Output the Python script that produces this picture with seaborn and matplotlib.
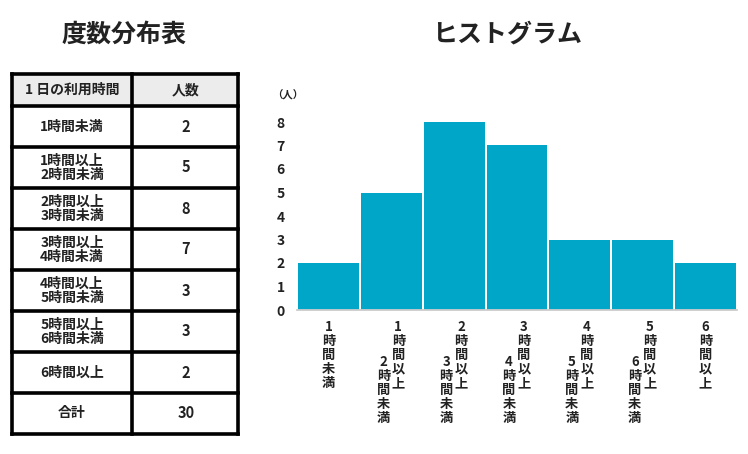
import matplotlib
matplotlib.use('Agg')
import matplotlib.pyplot as plt
import matplotlib.transforms as mtransforms
from matplotlib.patches import Rectangle
import seaborn as sns
import pandas as pd

# data
time_labels = ['1時間未満', '1時間以上\n2時間未満', '2時間以上\n3時間未満', '3時間以上\n4時間未満',
               '4時間以上\n5時間未満', '5時間以上\n6時間未満', '6時間以上']
counts = [2, 5, 8, 7, 3, 3, 2]
header = ['1 日の利用時間', '人数']
total_label = '合計'
y_ticks = [0, 1, 2, 3, 4, 5, 6, 7, 8]

bar_color = '#00a6c7'
text_color = '#222222'

sns.set_theme(style='white')
plt.rcParams['font.family'] = ['Noto Sans CJK JP', 'DejaVu Sans']

W, H = 748, 454
fig = plt.figure(figsize=(W / 100, H / 100), dpi=100)

# ---------- table (pixel coordinates) ----------
tab = fig.add_axes([0, 0, 1, 1])
tab.set_xlim(0, W)
tab.set_ylim(H, 0)
tab.axis('off')

left, mid, right = 12, 132, 238
top, head_h, row_h = 74, 32, 41
n_rows = len(time_labels) + 1
row_tops = [top + head_h + i * row_h for i in range(n_rows)]
bottom = row_tops[-1] + row_h

tab.add_patch(Rectangle((left, top), right - left, head_h, facecolor='#ececec', edgecolor='none'))
lw = 2.6
for y in [top] + row_tops + [bottom]:
    tab.plot([left, right], [y, y], color='black', lw=lw, solid_capstyle='projecting')
for x in [left, mid, right]:
    tab.plot([x, x], [top, bottom], color='black', lw=lw, solid_capstyle='projecting')

cx_l, cx_r = (left + mid) / 2, (mid + right) / 2 + 1
tab.text(cx_l, top + head_h / 2, header[0], ha='center', va='center', fontsize=10, fontweight='bold', color=text_color)
tab.text(cx_r, top + head_h / 2, header[1], ha='center', va='center', fontsize=10, fontweight='bold', color=text_color)

cells = time_labels + [total_label]
values = counts + [sum(counts)]
for i, (lab, val) in enumerate(zip(cells, values)):
    cy = row_tops[i] + row_h / 2
    lines = lab.split('\n')
    for j, line in enumerate(lines):
        dy = (j - (len(lines) - 1) / 2) * 14
        tab.text(cx_l, cy + dy, line, ha='center', va='center', fontsize=10, fontweight='bold', color=text_color)
    tab.text(cx_r, cy, str(val), ha='center', va='center', fontsize=10.5, fontweight='bold', color=text_color)

# ---------- titles ----------
fig.text(124 / W, 1 - 35 / H, '度数分布表', ha='center', va='center', fontsize=18, fontweight='bold', color=text_color)
fig.text(507 / W, 1 - 35 / H, 'ヒストグラム', ha='center', va='center', fontsize=18, fontweight='bold', color=text_color)

# ---------- histogram ----------
ax_l, ax_r, base_y = 297, 737, 310
unit = 23.5
y_top = 8.4
ax = fig.add_axes([ax_l / W, (H - base_y) / H, (ax_r - ax_l) / W, y_top * unit / H])

df = pd.DataFrame({'time': time_labels, 'count': counts})
sns.barplot(data=df, x='time', y='count', color=bar_color, saturation=1, width=0.97,
            linewidth=0, ax=ax)
ax.set_xlim(-0.5, len(time_labels) - 0.5)
ax.set_ylim(0, y_top)
ax.set_yticks(y_ticks)
ax.set_yticklabels([str(t) for t in y_ticks], fontsize=10, fontweight='bold', color=text_color)
ax.tick_params(axis='y', length=0, pad=9)
ax.set_xticks([])
ax.set_xlabel('')
ax.set_ylabel('')
for s in ['top', 'left', 'right']:
    ax.spines[s].set_visible(False)
ax.spines['bottom'].set_color('#cccccc')
ax.spines['bottom'].set_linewidth(1.3)
ax.set_facecolor('none')

fig.text(288 / W, 1 - 95 / H, '（人）', ha='center', va='center', fontsize=7.5, fontweight='bold', color=text_color)

# vertical category labels (tategaki: first line on the right)
base = mtransforms.blended_transform_factory(ax.transData, fig.transFigure)
step = 14
for i, lab in enumerate(time_labels):
    lines = lab.split('\n')
    if len(lines) == 1:
        cols = [(0, 327, lines[0])]
    else:
        cols = [(7, 327, lines[0]), (-8, 362, lines[1])]
    for dx, y0, line in cols:
        tr = mtransforms.offset_copy(base, fig=fig, x=dx, y=0, units='dots')
        for k, ch in enumerate(line):
            ax.text(i, 1 - (y0 + k * step) / H, ch, transform=tr, ha='center', va='center',
                    fontsize=9.5, fontweight='bold', color=text_color, clip_on=False)

fig.savefig('out.png', dpi=100)
